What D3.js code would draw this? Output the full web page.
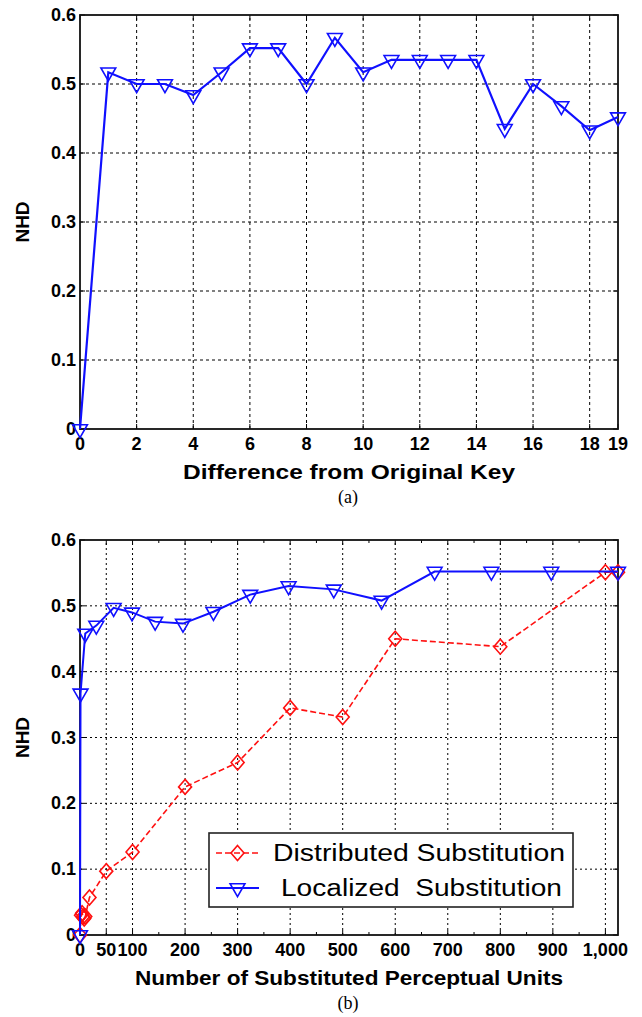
<!DOCTYPE html>
<html>
<head>
<meta charset="utf-8">
<script src="https://cdn.jsdelivr.net/npm/d3@7"></script>
<style>
  html, body { margin: 0; padding: 0; background: #fff; }
  svg { display: block; }
  text { white-space: pre; }
</style>
</head>
<body>
<script>
// ---- Panel (a): NHD versus difference from the original key ----
const keyDiff = [0, 1, 2, 3, 4, 5, 6, 7, 8, 9, 10, 11, 12, 13, 14, 15, 16, 17, 18, 19];
const keyNHD  = [0, 0.517, 0.5, 0.5, 0.484, 0.517, 0.552, 0.552, 0.5, 0.567,
                 0.517, 0.535, 0.535, 0.535, 0.535, 0.435, 0.5, 0.468, 0.433, 0.452];
const keyTicks = [0, 2, 4, 6, 8, 10, 12, 14, 16, 18, 19];

// ---- Panel (b): NHD versus number of substituted perceptual units ----
const distUnits = [0, 2, 4, 6, 8, 10, 18, 50, 100, 200, 300, 400, 500, 600, 800, 1000, 1024];
const distNHD   = [0, 0.03, 0.033, 0.028, 0.025, 0.028, 0.057, 0.097, 0.126, 0.225,
                   0.262, 0.345, 0.331, 0.450, 0.438, 0.551, 0.551];
const locUnits  = [0, 1, 10, 31, 64, 99, 143, 196, 254, 324, 397, 483, 574, 675, 783, 897, 1024];
const locNHD    = [0, 0.367, 0.458, 0.470, 0.497, 0.490, 0.476, 0.473, 0.491, 0.517,
                   0.530, 0.525, 0.508, 0.552, 0.552, 0.552, 0.552];
const unitTicks = [0, 50, 100, 200, 300, 400, 500, 600, 700, 800, 900, 1000];
const unitMinor = [150, 250, 350, 450, 550, 650, 750, 850, 950];
const unitLabels = ["0", "50", "100", "200", "300", "400", "500", "600", "700", "800", "900", "1,000"];

const nhdTicks = [0, 0.1, 0.2, 0.3, 0.4, 0.5, 0.6];
const nhdLabels = ["0", "0.1", "0.2", "0.3", "0.4", "0.5", "0.6"];

const BLUE = "#1010ff";
const RED = "#ff1010";
const W = 642, H = 1017;

const svg = d3.select("body").append("svg").attr("width", W).attr("height", H);
svg.append("rect").attr("width", W).attr("height", H).attr("fill", "#fff");

const tickFont = "'Liberation Sans', Arial, Helvetica, sans-serif";
const titleFont = "'Liberation Sans', Arial, Helvetica, sans-serif";

// symbol generators
const triDown = d3.symbol().type(d3.symbolTriangle).size(95);
function diamondPath(w, h) {
  return `M0,${-h/2}L${w/2},0L0,${h/2}L${-w/2},0Z`;
}

function panel(opt) {
  const { x, y, g } = opt;
  const [x0, x1] = x.range();
  const [y0, y1] = y.range(); // y0 bottom, y1 top

  // grid
  g.append("g").selectAll("line").data(opt.gridX).join("line")
    .attr("x1", d => x(d)).attr("x2", d => x(d)).attr("y1", y0).attr("y2", y1)
    .attr("stroke", "#000").attr("stroke-width", 1).attr("stroke-dasharray", opt.dash);
  g.append("g").selectAll("line").data(nhdTicks.filter(d => d > 0 && d < 0.6)).join("line")
    .attr("x1", x0).attr("x2", x1).attr("y1", d => y(d)).attr("y2", d => y(d))
    .attr("stroke", "#000").attr("stroke-width", 1).attr("stroke-dasharray", opt.dash);

  // inward ticks on all four sides
  const tl = 5;
  const tg = g.append("g").attr("stroke", "#000").attr("stroke-width", 1);
  opt.ticksX.forEach(d => {
    tg.append("line").attr("x1", x(d)).attr("x2", x(d)).attr("y1", y0).attr("y2", y0 - tl);
    tg.append("line").attr("x1", x(d)).attr("x2", x(d)).attr("y1", y1).attr("y2", y1 + tl);
  });
  (opt.minorX || []).forEach(d => {
    tg.append("line").attr("x1", x(d)).attr("x2", x(d)).attr("y1", y0).attr("y2", y0 - 3);
    tg.append("line").attr("x1", x(d)).attr("x2", x(d)).attr("y1", y1).attr("y2", y1 + 3);
  });
  nhdTicks.forEach(d => {
    tg.append("line").attr("x1", x0).attr("x2", x0 + tl).attr("y1", y(d)).attr("y2", y(d));
    tg.append("line").attr("x1", x1).attr("x2", x1 - tl).attr("y1", y(d)).attr("y2", y(d));
  });

  // frame
  g.append("rect").attr("x", x0).attr("y", y1).attr("width", x1 - x0).attr("height", y0 - y1)
    .attr("fill", "none").attr("stroke", "#111").attr("stroke-width", 1.8);

  // y tick labels
  g.append("g").selectAll("text").data(nhdTicks).join("text")
    .attr("x", x0 - 4).attr("y", d => y(d) + 6)
    .attr("text-anchor", "end")
    .attr("font-family", tickFont).attr("font-weight", "bold").attr("font-size", 18)
    .text((d, i) => nhdLabels[i]);

  // x tick labels
  g.append("g").selectAll("text").data(opt.labelX).join("text")
    .attr("x", d => x(d[0])).attr("y", y0 + 21)
    .attr("text-anchor", "middle")
    .attr("font-family", tickFont).attr("font-weight", "bold").attr("font-size", 18)
    .attr("letter-spacing", opt.labelSpacing || 0)
    .text(d => d[1]);

  // axis titles
  g.append("text")
    .attr("x", (x0 + x1) / 2).attr("y", y0 + 50)
    .attr("text-anchor", "middle")
    .attr("font-family", titleFont).attr("font-weight", "bold").attr("font-size", 20)
    .attr("textLength", opt.titleLen).attr("lengthAdjust", "spacingAndGlyphs")
    .text(opt.title);
  g.append("text")
    .attr("transform", `translate(29,${(y0 + y1) / 2}) rotate(-90)`)
    .attr("text-anchor", "middle")
    .attr("font-family", titleFont).attr("font-weight", "bold").attr("font-size", 19)
    .text("NHD");

  // caption
  g.append("text")
    .attr("x", 348).attr("y", opt.captionY)
    .attr("text-anchor", "middle")
    .attr("font-family", "'Liberation Serif', 'Times New Roman', serif").attr("font-size", 18)
    .text(opt.caption);
}

// ---------- Panel (a) ----------
const xa = d3.scaleLinear().domain([0, 19]).range([80, 618]);
const ya = d3.scaleLinear().domain([0, 0.6]).range([429, 15]);
const ga = svg.append("g");
panel({
  g: ga, x: xa, y: ya,
  gridX: keyTicks.filter(d => d > 0 && d < 19),
  ticksX: keyTicks,
  labelX: keyTicks.map(d => [d, String(d)]),
  dash: "3,3",
  title: "Difference from Original Key", titleLen: 332,
  caption: "(a)", captionY: 503
});
const lineA = d3.line().x((d, i) => xa(keyDiff[i])).y(d => ya(d));
ga.append("path").datum(keyNHD).attr("d", lineA)
  .attr("fill", "none").attr("stroke", BLUE).attr("stroke-width", 2.2);
ga.append("g").selectAll("path").data(keyNHD).join("path")
  .attr("d", triDown)
  .attr("transform", (d, i) => `translate(${xa(keyDiff[i])},${ya(d)}) rotate(180)`)
  .attr("fill", "none").attr("stroke", BLUE).attr("stroke-width", 1.6);

// ---------- Panel (b) ----------
const xb = d3.scaleLinear().domain([0, 1024]).range([80, 618]);
const yb = d3.scaleLinear().domain([0, 0.6]).range([935, 540]);
const gb = svg.append("g");
panel({
  g: gb, x: xb, y: yb,
  gridX: unitTicks.filter(d => d > 0),
  ticksX: unitTicks,
  minorX: unitMinor,
  labelX: unitTicks.map((d, i) => [d, unitLabels[i]]),
  dash: "2,3",
  title: "Number of Substituted Perceptual Units", titleLen: 428,
  caption: "(b)", captionY: 1009
});

const lineDist = d3.line().x((d, i) => xb(distUnits[i])).y(d => yb(d));
gb.append("path").datum(distNHD).attr("d", lineDist)
  .attr("fill", "none").attr("stroke", RED).attr("stroke-width", 1.6)
  .attr("stroke-dasharray", "6,3");
gb.append("g").selectAll("path").data(distNHD).join("path")
  .attr("d", diamondPath(13, 15))
  .attr("transform", (d, i) => `translate(${xb(distUnits[i])},${yb(d)})`)
  .attr("fill", "none").attr("stroke", RED).attr("stroke-width", 1.6);

const lineLoc = d3.line().x((d, i) => xb(locUnits[i])).y(d => yb(d));
gb.append("path").datum(locNHD).attr("d", lineLoc)
  .attr("fill", "none").attr("stroke", BLUE).attr("stroke-width", 2);
gb.append("g").selectAll("path").data(locNHD).join("path")
  .attr("d", triDown)
  .attr("transform", (d, i) => `translate(${xb(locUnits[i])},${yb(d)}) rotate(180)`)
  .attr("fill", "none").attr("stroke", BLUE).attr("stroke-width", 1.6);

// legend
const lg = gb.append("g");
lg.append("rect").attr("x", 209).attr("y", 833).attr("width", 364).attr("height", 74)
  .attr("fill", "#fff").attr("stroke", "#222").attr("stroke-width", 1.6);
const legendItems = [
  { label: "Distributed Substitution", color: RED, dash: "6,3", mark: "diamond", y: 853, tx: 273, len: 292 },
  { label: "Localized  Substitution", color: BLUE, dash: null, mark: "tri", y: 888, tx: 281, len: 281 }
];
legendItems.forEach(it => {
  lg.append("line").attr("x1", 216).attr("x2", 259).attr("y1", it.y).attr("y2", it.y)
    .attr("stroke", it.color).attr("stroke-width", it.mark === "tri" ? 2 : 1.6)
    .attr("stroke-dasharray", it.dash);
  lg.append("path")
    .attr("d", it.mark === "tri" ? triDown : diamondPath(13, 15))
    .attr("transform", `translate(237.5,${it.y})` + (it.mark === "tri" ? " rotate(180)" : ""))
    .attr("fill", "none").attr("stroke", it.color).attr("stroke-width", 1.6);
  lg.append("text")
    .attr("x", it.tx).attr("y", it.y + 8)
    .attr("font-family", titleFont).attr("font-size", 23).attr("font-weight", 500)
    .attr("textLength", it.len).attr("lengthAdjust", "spacingAndGlyphs")
    .text(it.label);
});
</script>
</body>
</html>
